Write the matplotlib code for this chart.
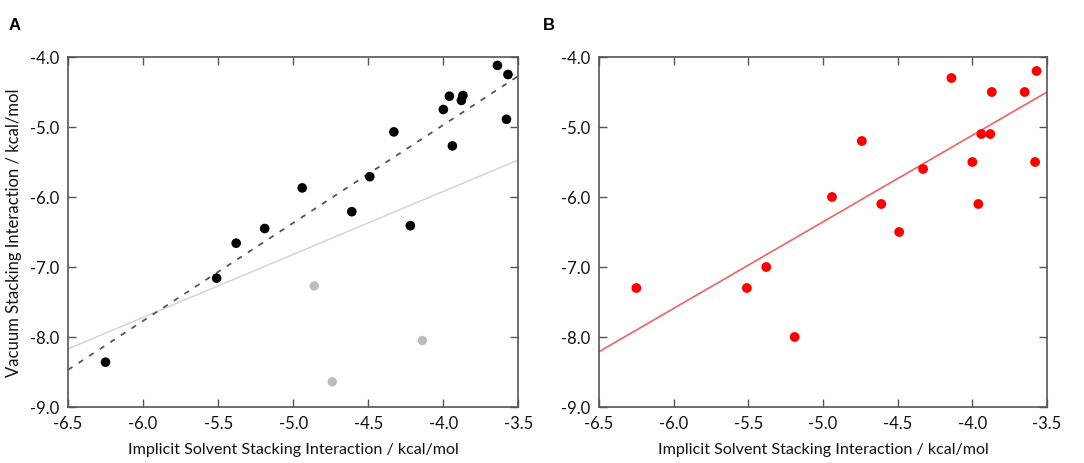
import matplotlib
matplotlib.use("Agg")
import matplotlib.pyplot as plt

plt.rcParams['font.family'] = ['Lato', 'DejaVu Sans']

# Panel A: black points (fit set) and gray points (outliers)
a_black_x = [-6.25, -5.51, -5.38, -5.19, -4.94, -4.61, -4.49, -4.33, -4.22,
             -4.00, -3.96, -3.94, -3.88, -3.87, -3.64, -3.57, -3.58]
a_black_y = [-8.36, -7.16, -6.66, -6.45, -5.87, -6.21, -5.71, -5.07, -6.41,
             -4.75, -4.56, -5.27, -4.62, -4.55, -4.12, -4.25, -4.89]
a_gray_x = [-4.86, -4.74, -4.14]
a_gray_y = [-7.27, -8.64, -8.05]

# Regression lines for panel A (values at x = -6.5 and x = -3.5)
fit_x = [-6.5, -3.5]
a_dash_y = [-8.47, -4.27]
a_gray_line_y = [-8.17, -5.47]

# Panel B: red points
b_x = [-6.25, -5.51, -5.38, -5.19, -4.94, -4.74, -4.61, -4.49, -4.33, -4.14,
       -4.00, -3.96, -3.94, -3.88, -3.87, -3.65, -3.58, -3.57]
b_y = [-7.3, -7.3, -7.0, -8.0, -6.0, -5.2, -6.1, -6.5, -5.6, -4.3,
       -5.5, -6.1, -5.1, -5.1, -4.5, -4.5, -5.5, -4.2]
b_line_y = [-8.21, -4.50]

xticks = [-6.5, -6.0, -5.5, -5.0, -4.5, -4.0, -3.5]
yticks = [-9.0, -8.0, -7.0, -6.0, -5.0, -4.0]
xlabel = "Implicit Solvent Stacking Interaction / kcal/mol"
ylabel = "Vacuum Stacking Interaction / kcal/mol"

fig = plt.figure(figsize=(10.84, 4.64), dpi=100)
axA = fig.add_axes([0.0627, 0.1207, 0.4156, 0.7543])
axB = fig.add_axes([0.5526, 0.1207, 0.4133, 0.7543])

spine_col = '#555555'
for ax in (axA, axB):
    ax.set_xlim(-6.5, -3.5)
    ax.set_ylim(-9.0, -4.0)
    ax.set_xticks(xticks)
    ax.set_yticks(yticks)
    ax.set_xticklabels([f"{v:.1f}" for v in xticks])
    ax.set_yticklabels([f"{v:.1f}" for v in yticks])
    ax.tick_params(direction='in', length=6, width=1, color=spine_col,
                   top=True, right=True, labelsize=12, pad=6, labelcolor='#111111')
    for s in ax.spines.values():
        s.set_color(spine_col)
        s.set_linewidth(1.2)
    ax.set_xlabel(xlabel, fontsize=11.6, labelpad=8, color='#111111')

axA.plot(fit_x, a_gray_line_y, color='#d4d4d4', lw=1.1, zorder=1)
axA.plot(fit_x, a_dash_y, color='#555555', lw=1.3, ls=(0, (3, 4)), zorder=2)
axA.scatter(a_gray_x, a_gray_y, s=46, color='#bdbdbd', edgecolors='none', zorder=3)
axA.scatter(a_black_x, a_black_y, s=48, color='black', edgecolors='none', zorder=4)
axA.set_ylabel(ylabel, fontsize=12, labelpad=6, color='#111111')

axB.plot(fit_x, b_line_y, color='#f06262', lw=1.2, zorder=1)
axB.scatter(b_x, b_y, s=50, color='#ff0000', edgecolors='none', zorder=3)

fig.text(0.0075, 0.945, "A", fontsize=12, fontweight='bold', family='Liberation Sans',
         va='center', ha='left')
fig.text(0.501, 0.945, "B", fontsize=12, fontweight='bold', family='Liberation Sans',
         va='center', ha='left')

fig.savefig("out.png", dpi=100, facecolor='white')
